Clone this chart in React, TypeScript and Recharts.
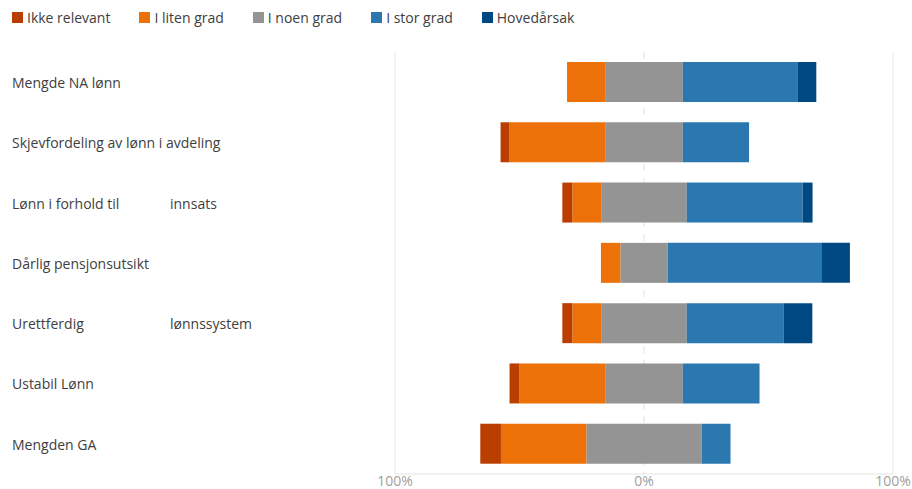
import React from 'react';
import { BarChart, Bar, XAxis, YAxis, CartesianGrid } from 'recharts';

const categories = [
  'Mengde NA lønn',
  'Skjevfordeling av lønn i avdeling',
  'Lønn i forhold til\tinnsats',
  'Dårlig pensjonsutsikt',
  'Urettferdig\tlønnssystem',
  'Ustabil Lønn',
  'Mengden GA',
];

const ikkeRelevant = [0, 3.6, 4.0, 0, 4.0, 4.0, 8.3];
const litenGrad = [15.3, 38.4, 11.6, 7.8, 11.6, 34.4, 34.3];
const noenGrad = [31.2, 31.2, 34.4, 19.0, 34.4, 31.2, 46.3];
const storGrad = [46.0, 26.6, 46.5, 61.7, 38.8, 30.8, 11.6];
const hovedarsak = [7.6, 0, 4.0, 11.5, 11.6, 0, 0];

const seriesNames = ['Ikke relevant', 'I liten grad', 'I noen grad', 'I stor grad', 'Hovedårsak'];
const seriesColors = ['#BA3E00', '#EC7108', '#949494', '#2B78B0', '#004882'];
const xTicks = [-100, 0, 100];
const xDomain: [number, number] = [-100, 100];
const solidGridValues = [-100, 100];
const dashedGridValues = [0];

const FONT = '"Open Sans", "Noto Sans", sans-serif';

const data = categories.map((name, i) => ({
  name,
  noenNeg: -noenGrad[i] / 2,
  liten: -litenGrad[i],
  ikke: -ikkeRelevant[i],
  noenPos: noenGrad[i] / 2,
  stor: storGrad[i],
  hoved: hovedarsak[i],
}));

const makeGen = (values: number[]) => (args: any) => {
  const { xAxis, offset } = args || {};
  return values.map((v) => {
    if (xAxis && typeof xAxis.scale === 'function') {
      const p = xAxis.scale(v);
      if (typeof p === 'number' && !isNaN(p)) return p;
    }
    return offset.left + (offset.width * (v - xDomain[0])) / (xDomain[1] - xDomain[0]);
  });
};

const CategoryTick = (props: any) => {
  const { y, payload } = props;
  const parts = String(payload.value).split('\t');
  return (
    <g>
      <text x={12} y={y} dy="0.42em" fill="#404040" fontSize={14} fontFamily={FONT}>
        {parts[0]}
      </text>
      {parts[1] ? (
        <text x={170} y={y} dy="0.42em" fill="#404040" fontSize={14} fontFamily={FONT}>
          {parts[1]}
        </text>
      ) : null}
    </g>
  );
};

export default function App() {
  return (
    <div style={{ position: 'absolute', left: 0, top: 0, width: 912, height: 489, background: '#fff', fontFamily: FONT }}>
      <div
        style={{
          position: 'absolute',
          left: 12,
          top: 8,
          display: 'flex',
          alignItems: 'center',
          gap: 29,
          fontSize: 14,
          lineHeight: '19px',
          color: '#404040',
          whiteSpace: 'nowrap',
        }}
      >
        {seriesNames.map((n, i) => (
          <div key={n} style={{ display: 'flex', alignItems: 'center' }}>
            <span style={{ display: 'inline-block', width: 11, height: 11, background: seriesColors[i], marginRight: 4 }} />
            <span>{n}</span>
          </div>
        ))}
      </div>
      <BarChart
        width={912}
        height={489}
        data={data}
        layout="vertical"
        stackOffset="sign"
        barSize={40}
        margin={{ top: 52, right: 19, bottom: 0, left: 0 }}
        style={{ position: 'absolute', left: 0, top: 0 }}
      >
        <CartesianGrid
          horizontal={false}
          stroke="#e8e8e8"
          verticalCoordinatesGenerator={makeGen(solidGridValues)}
        />
        <CartesianGrid
          horizontal={false}
          stroke="#e0e0e0"
          strokeDasharray="7 7"
          verticalCoordinatesGenerator={makeGen(dashedGridValues)}
        />
        <XAxis
          type="number"
          domain={xDomain}
          ticks={xTicks}
          tickFormatter={(v: number) => `${Math.abs(v)}%`}
          axisLine={{ stroke: '#e4e4e4' }}
          tickLine={false}
          tickSize={0}
          tickMargin={2}
          height={15}
          tick={{ fill: '#a0a0a0', fontSize: 14, fontFamily: FONT }}
          interval={0}
        />
        <YAxis
          type="category"
          dataKey="name"
          width={395}
          axisLine={false}
          tickLine={false}
          tick={<CategoryTick />}
          interval={0}
        />
        <Bar dataKey="noenNeg" stackId="s" fill={seriesColors[2]} isAnimationActive={false} />
        <Bar dataKey="liten" stackId="s" fill={seriesColors[1]} isAnimationActive={false} />
        <Bar dataKey="ikke" stackId="s" fill={seriesColors[0]} isAnimationActive={false} />
        <Bar dataKey="noenPos" stackId="s" fill={seriesColors[2]} isAnimationActive={false} />
        <Bar dataKey="stor" stackId="s" fill={seriesColors[3]} isAnimationActive={false} />
        <Bar dataKey="hoved" stackId="s" fill={seriesColors[4]} isAnimationActive={false} />
      </BarChart>
    </div>
  );
}
